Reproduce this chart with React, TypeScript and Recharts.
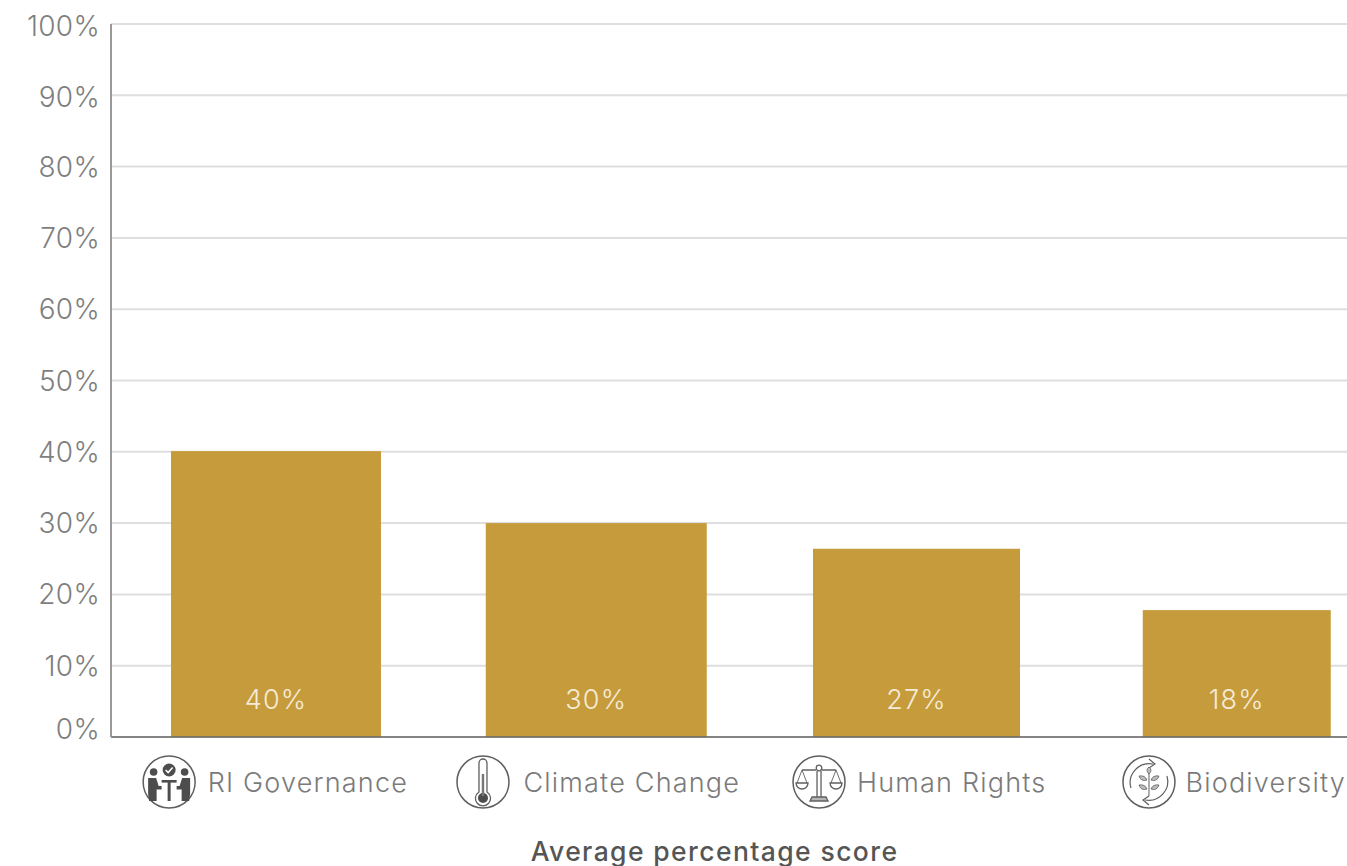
import React from "react";
import { BarChart, Bar, XAxis, YAxis, CartesianGrid, LabelList } from "recharts";

const categories = ["RI Governance", "Climate Change", "Human Rights", "Biodiversity"];
const scores = [40.1, 30, 26.4, 17.8];
const scoreLabels = ["40%", "30%", "27%", "18%"];
const yTicks = [0, 10, 20, 30, 40, 50, 60, 70, 80, 90, 100];
const xTitle = "Average percentage score";

const barWidths = [210, 221, 207, 188];
const iconOffsets = [-107, -113.4, -97.6, -87.9];
const textGaps = [38.5, 40.5, 38, 36.5];
const yLabelShift: Record<number, number> = { 0: -8, 90: 2, 100: 2 };

const rows = categories.map((name, i) => ({ name, score: scores[i], label: scoreLabels[i] }));

const FONT = "Inter, 'Noto Sans', sans-serif";
const ICON = "#5f5f5f";

function GovernanceGlyph() {
  return (
    <g fill="#4d4d4d">
      <circle cx={-15.5} cy={-10} r={3.8} />
      <circle cx={15.5} cy={-10} r={3.8} />
      <circle cx={0} cy={-12} r={6.5} />
      <path d="M-3.5 -12 L-1 -9.5 L3.5 -14.5" fill="none" stroke="#fff" strokeWidth={1.6} />
      <path d="M-21 -4 h8 l2.5 8 h3 v3.5 h-5 v11.5 h-7.5 l-1 -7 z" />
      <path d="M21 -4 h-8 l-2.5 8 h-3 v3.5 h5 v11.5 h7.5 l1 -7 z" />
      <rect x={-7.5} y={-2} width={15} height={2.6} />
      <rect x={-1.5} y={-1} width={3} height={20} />
    </g>
  );
}

function ThermometerGlyph() {
  return (
    <g>
      <path d="M-4 10 V-19 a4 4 0 0 1 8 0 V10 a7.5 7.5 0 1 1 -8 0 z" fill="#fff" stroke={ICON} strokeWidth={1.3} />
      <circle cx={0} cy={16} r={5} fill="#4d4d4d" />
      <rect x={-1.2} y={-8} width={2.4} height={22} fill="#777" />
    </g>
  );
}

function ScaleGlyph() {
  return (
    <g fill="none" stroke={ICON} strokeWidth={1.3}>
      <circle cx={0} cy={-14} r={2.8} fill="#fff" />
      <path d="M-17 -12 H-3 M3 -12 H17" />
      <path d="M-2 -11 V15 M2 -11 V15" />
      <path d="M-17 -12 L-22 1 M-17 -12 L-12 1 M17 -12 L22 1 M17 -12 L12 1" strokeWidth={0.9} />
      <path d="M-23 1 H-11 a6 6 0 0 1 -12 0 z M11 1 H23 a6 6 0 0 1 -12 0 z" />
      <path d="M-9 19 L-7 15 H7 L9 19 z" fill="#b5b5b5" />
    </g>
  );
}

function BiodiversityGlyph() {
  return (
    <g fill="none" stroke={ICON} strokeWidth={1.2}>
      <path d="M-18 6 A19 19 0 0 1 4 -18 M0 -23 L6 -18 L0 -14" />
      <path d="M18 -6 A19 19 0 0 1 -4 18 M0 23 L-6 18 L0 14" />
      <path d="M0 14 V-10" strokeWidth={1} />
      <path d="M0 -15 q4 3 0 7 q-4 -4 0 -7 z M-10 -6 q6 -1 8 4 q-6 2 -8 -4 z M10 -6 q-6 -1 -8 4 q6 2 8 -4 z M-10 3 q6 -1 8 4 q-6 2 -8 -4 z M10 3 q-6 -1 -8 4 q6 2 8 -4 z" fill="#bdbdbd" strokeWidth={0.8} />
    </g>
  );
}

const glyphs = [GovernanceGlyph, ThermometerGlyph, ScaleGlyph, BiodiversityGlyph];

function CategoryTick(props: any) {
  const { x, payload, index } = props;
  const i = index ?? categories.indexOf(payload.value);
  const Glyph = glyphs[i];
  const cx = x + iconOffsets[i];
  return (
    <g>
      <g transform={`translate(${cx},782)`}>
        <circle r={26} fill="#fff" stroke={ICON} strokeWidth={1.5} />
        <Glyph />
      </g>
      <text x={cx + textGaps[i]} y={792} fontFamily={FONT} fontWeight={300} fontSize={27} letterSpacing={1.2} fill="#7a7a7a">
        {payload.value}
      </text>
    </g>
  );
}

function PercentTick(props: any) {
  const { x, y, payload } = props;
  return (
    <text x={x + 7} y={y + (yLabelShift[payload.value] ?? 0) + 10} textAnchor="end" fontFamily={FONT} fontWeight={300} fontSize={28} letterSpacing={0.3} fill="#7f7f7f">
      {payload.value}%
    </text>
  );
}

function VariableBar(props: any) {
  const { x, y, width, height, index, fill } = props;
  const w = barWidths[index];
  return <rect x={x + width / 2 - w / 2} y={y} width={w} height={height} fill={fill} />;
}

function BottomLabel(props: any) {
  const { x, y, width, height, value } = props;
  return (
    <text x={x + width / 2} y={y + height - 28} textAnchor="middle" fontFamily={FONT} fontWeight={300} fontSize={27} letterSpacing={1.2} fill="#f5ecd8">
      {value}
    </text>
  );
}

export default function App() {
  return (
    <div style={{ position: "absolute", left: 0, top: 0, width: 1347, height: 866, overflow: "hidden", background: "#fff" }}>
      <BarChart
        width={1397}
        height={866}
        data={rows}
        margin={{ top: 24, right: 0, bottom: 0, left: 0 }}
        barCategoryGap={50}
      >
        <CartesianGrid horizontal vertical={false} stroke="#dedede" strokeWidth={2} />
        <XAxis
          dataKey="name"
          height={129}
          interval={0}
          axisLine={{ stroke: "#666666", strokeWidth: 1.5 }}
          tickLine={false}
          tick={<CategoryTick />}
          padding={{ left: 5, right: 0 }}
          label={{
            value: xTitle,
            position: "insideBottom",
            content: () => (
              <text x={714.5} y={861} textAnchor="middle" fontFamily={FONT} fontWeight={500} fontSize={26.5} letterSpacing={1.4} fill="#555555">
                {xTitle}
              </text>
            ),
          }}
        />
        <YAxis
          width={111}
          domain={[0, 100]}
          ticks={yTicks}
          interval={0}
          axisLine={{ stroke: "#999999", strokeWidth: 2 }}
          tickLine={false}
          tickMargin={12}
          tick={<PercentTick />}
        />
        <Bar dataKey="score" fill="#c69b3c" isAnimationActive={false} shape={<VariableBar />}>
          <LabelList dataKey="label" content={<BottomLabel />} />
        </Bar>
      </BarChart>
    </div>
  );
}
